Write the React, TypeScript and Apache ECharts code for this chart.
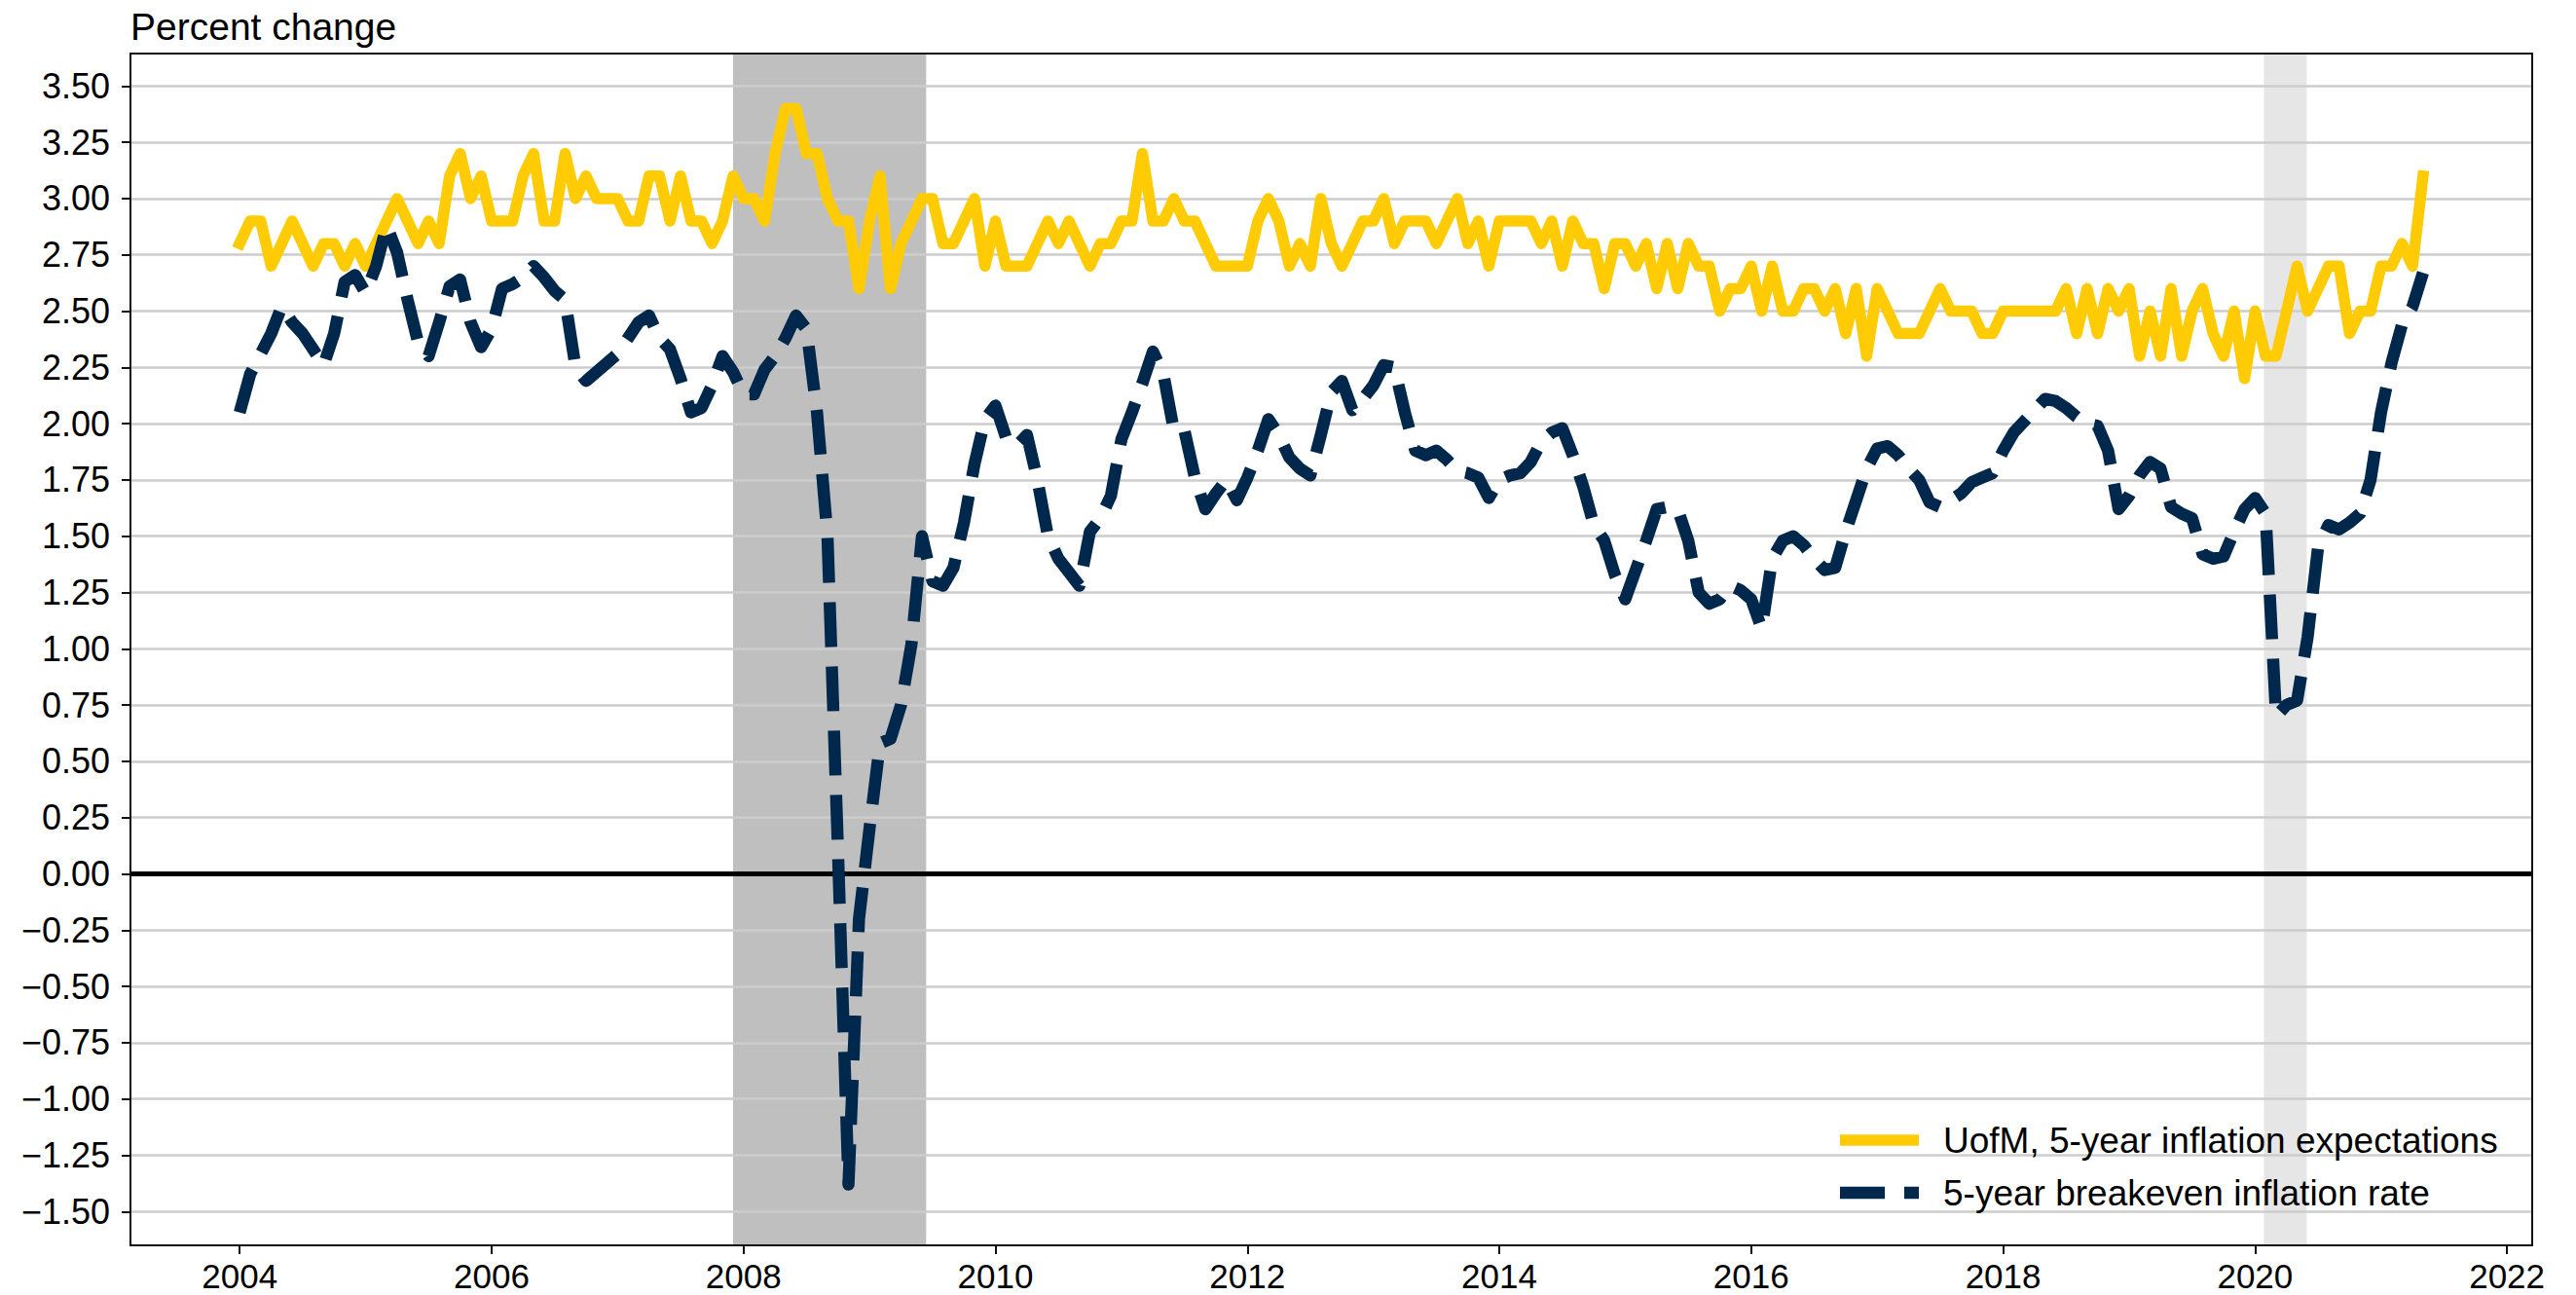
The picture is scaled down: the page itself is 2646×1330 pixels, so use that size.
import React, { useEffect, useRef } from 'react';
import * as echarts from 'echarts';

// Monthly data, January 2004 through May 2021
const startYear = 2004;

const uofm = [
  2.8, 2.9, 2.9, 2.7, 2.8, 2.9, 2.8, 2.7, 2.8, 2.8, 2.7, 2.8,
  2.7, 2.8, 2.9, 3.0, 2.9, 2.8, 2.9, 2.8, 3.1, 3.2, 3.0, 3.1,
  2.9, 2.9, 2.9, 3.1, 3.2, 2.9, 2.9, 3.2, 3.0, 3.1, 3.0, 3.0,
  3.0, 2.9, 2.9, 3.1, 3.1, 2.9, 3.1, 2.9, 2.9, 2.8, 2.9, 3.1,
  3.0, 3.0, 2.9, 3.2, 3.4, 3.4, 3.2, 3.2, 3.0, 2.9, 2.9, 2.6,
  2.9, 3.1, 2.6, 2.8, 2.9, 3.0, 3.0, 2.8, 2.8, 2.9, 3.0, 2.7,
  2.9, 2.7, 2.7, 2.7, 2.8, 2.9, 2.8, 2.9, 2.8, 2.7, 2.8, 2.8,
  2.9, 2.9, 3.2, 2.9, 2.9, 3.0, 2.9, 2.9, 2.8, 2.7, 2.7, 2.7,
  2.7, 2.9, 3.0, 2.9, 2.7, 2.8, 2.7, 3.0, 2.8, 2.7, 2.8, 2.9,
  2.9, 3.0, 2.8, 2.9, 2.9, 2.9, 2.8, 2.9, 3.0, 2.8, 2.9, 2.7,
  2.9, 2.9, 2.9, 2.9, 2.8, 2.9, 2.7, 2.9, 2.8, 2.8, 2.6, 2.8,
  2.8, 2.7, 2.8, 2.6, 2.8, 2.6, 2.8, 2.7, 2.7, 2.5, 2.6, 2.6,
  2.7, 2.5, 2.7, 2.5, 2.5, 2.6, 2.6, 2.5, 2.6, 2.4, 2.6, 2.3,
  2.6, 2.5, 2.4, 2.4, 2.4, 2.5, 2.6, 2.5, 2.5, 2.5, 2.4, 2.4,
  2.5, 2.5, 2.5, 2.5, 2.5, 2.5, 2.6, 2.4, 2.6, 2.4, 2.6, 2.5,
  2.6, 2.3, 2.5, 2.3, 2.6, 2.3, 2.5, 2.6, 2.4, 2.3, 2.5, 2.2,
  2.5, 2.3, 2.3, 2.5, 2.7, 2.5, 2.6, 2.7, 2.7, 2.4, 2.5, 2.5,
  2.7, 2.7, 2.8, 2.7, 3.1,
];

const breakeven = [
  2.05, 2.22, 2.31, 2.40, 2.52, 2.45, 2.40, 2.33, 2.26, 2.40, 2.63, 2.66,
  2.58, 2.70, 2.88, 2.76, 2.55, 2.36, 2.30, 2.45, 2.61, 2.64, 2.45, 2.34,
  2.42, 2.60, 2.62, 2.65, 2.70, 2.65, 2.59, 2.55, 2.25, 2.19, 2.23, 2.27,
  2.31, 2.38, 2.45, 2.48, 2.38, 2.33, 2.20, 2.05, 2.07, 2.17, 2.30, 2.23,
  2.13, 2.13, 2.24, 2.30, 2.38, 2.48, 2.42, 2.05, 1.50, 0.10, -1.38, -0.20,
  0.20, 0.58, 0.60, 0.75, 1.02, 1.50, 1.30, 1.28, 1.36, 1.56, 1.82, 2.02,
  2.08, 1.94, 1.90, 1.95, 1.75, 1.50, 1.40, 1.34, 1.28, 1.52, 1.58, 1.68,
  1.93, 2.05, 2.18, 2.32, 2.22, 1.97, 1.97, 1.76, 1.62, 1.69, 1.75, 1.66,
  1.76, 1.88, 2.02, 1.95, 1.85, 1.80, 1.77, 1.95, 2.14, 2.19, 2.06, 2.11,
  2.17, 2.26, 2.25, 2.05, 1.88, 1.86, 1.88, 1.84, 1.79, 1.78, 1.76, 1.67,
  1.75, 1.77, 1.78, 1.83, 1.92, 1.96, 1.98, 1.86, 1.72, 1.55, 1.48, 1.33,
  1.22, 1.35, 1.48, 1.62, 1.63, 1.62, 1.48, 1.25, 1.20, 1.22, 1.28, 1.26,
  1.22, 1.09, 1.40, 1.48, 1.50, 1.46, 1.40, 1.35, 1.36, 1.52, 1.66, 1.80,
  1.89, 1.90, 1.86, 1.80, 1.75, 1.65, 1.63, 1.66, 1.69, 1.74, 1.76, 1.78,
  1.88, 1.96, 2.01, 2.06, 2.11, 2.10, 2.07, 2.03, 2.00, 1.99, 1.88, 1.62,
  1.68, 1.77, 1.83, 1.80, 1.63, 1.60, 1.58, 1.42, 1.40, 1.41, 1.52, 1.62,
  1.67, 1.60, 0.70, 0.75, 0.77, 1.05, 1.45, 1.55, 1.53, 1.56, 1.60, 1.75,
  2.05, 2.27, 2.44, 2.52, 2.67,
];

const xTicks = [2004, 2006, 2008, 2010, 2012, 2014, 2016, 2018, 2020, 2022];
const yTicks = [
  -1.5, -1.25, -1.0, -0.75, -0.5, -0.25, 0, 0.25, 0.5, 0.75, 1.0, 1.25,
  1.5, 1.75, 2.0, 2.25, 2.5, 2.75, 3.0, 3.25, 3.5,
];
const recessionStarts = [2007.917, 2020.07];
const recessionEnds = [2009.45, 2020.41];
const recessionColors = ['#bfbfbf', '#e6e6e6'];
const seriesNames = ['UofM, 5-year inflation expectations', '5-year breakeven inflation rate'];
const axisTitle = 'Percent change';

export default function App() {
  const ref = useRef<HTMLDivElement>(null);

  useEffect(() => {
    const chart = echarts.init(ref.current as HTMLDivElement, null, { renderer: 'svg' });
    const font = "'Liberation Sans', Arial, Helvetica, sans-serif";
    const toPoints = (arr: number[]) => arr.map((v, i) => [startYear + i / 12, v]);
    const yellow = '#FFCB05';
    const navy = '#00274C';
    const ink = '#000000';

    const gridLines = yTicks.map((v) =>
      v === 0
        ? { yAxis: v, lineStyle: { color: '#000000', width: 5, type: 'solid' } }
        : { yAxis: v, lineStyle: { color: '#cccccc', width: 2.5, type: 'solid' } }
    );

    const bands = recessionStarts.map((s, i) => [
      { xAxis: s, itemStyle: { color: recessionColors[i], opacity: 1 } },
      { xAxis: recessionEnds[i] },
    ]);

    chart.setOption({
      animation: false,
      grid: {
        left: 134,
        right: 45,
        top: 55,
        bottom: 51,
        show: true,
        borderColor: '#111111',
        borderWidth: 2,
        backgroundColor: 'transparent',
        z: 10,
      },
      xAxis: {
        type: 'value',
        min: 2003.133,
        max: 2022.2,
        z: 10,
        axisLine: { show: true, onZero: false, lineStyle: { color: '#111111', width: 2 } },
        axisTick: { show: true, length: 9, customValues: xTicks, lineStyle: { color: '#111111', width: 2 } },
        axisLabel: {
          customValues: xTicks,
          margin: 14,
          fontSize: 35,
          fontFamily: font,
          color: ink,
          formatter: (v: number) => String(Math.round(v)),
        },
        splitLine: { show: false },
      },
      yAxis: {
        type: 'value',
        min: -1.65,
        max: 3.644,
        z: 10,
        axisLine: { show: true, onZero: false, lineStyle: { color: '#111111', width: 2 } },
        axisTick: { show: true, length: 9, customValues: yTicks, lineStyle: { color: '#111111', width: 2 } },
        axisLabel: {
          customValues: yTicks,
          margin: 21,
          fontSize: 36,
          fontFamily: font,
          color: ink,
          formatter: (v: number) => (v < 0 ? '\u2212' : '') + Math.abs(v).toFixed(2),
        },
        splitLine: { show: false },
      },
      series: [
        {
          name: seriesNames[0],
          type: 'line',
          data: toPoints(uofm),
          showSymbol: false,
          symbol: 'none',
          z: 4,
          lineStyle: { color: yellow, width: 11.5, join: 'round', cap: 'square' },
          markArea: {
            silent: true,
            z: 1,
            data: bands,
          },
          markLine: {
            silent: true,
            z: 2,
            symbol: ['none', 'none'],
            label: { show: false },
            data: gridLines,
          },
        },
        {
          name: seriesNames[1],
          type: 'line',
          data: toPoints(breakeven),
          showSymbol: false,
          symbol: 'none',
          z: 5,
          lineStyle: { color: navy, width: 12.5, type: [46, 20], join: 'round', cap: 'butt' },
        },
      ],
      graphic: [
        {
          type: 'text',
          x: 134,
          y: 27.5,
          z: 20,
          style: { text: axisTitle, fontSize: 39, fontFamily: font, fill: ink, align: 'left', verticalAlign: 'middle' },
        },
        {
          type: 'line',
          z: 20,
          shape: { x1: 1890, y1: 1171, x2: 1971, y2: 1171 },
          style: { stroke: yellow, lineWidth: 11.5, lineCap: 'butt' },
        },
        {
          type: 'text',
          x: 1996,
          y: 1171,
          z: 20,
          style: { text: seriesNames[0], fontSize: 37, fontFamily: font, fill: ink, align: 'left', verticalAlign: 'middle' },
        },
        {
          type: 'line',
          z: 20,
          shape: { x1: 1890, y1: 1225, x2: 1971, y2: 1225 },
          style: { stroke: navy, lineWidth: 12.5, lineDash: [46, 20], lineCap: 'butt' },
        },
        {
          type: 'text',
          x: 1996,
          y: 1225,
          z: 20,
          style: { text: seriesNames[1], fontSize: 37, fontFamily: font, fill: ink, align: 'left', verticalAlign: 'middle' },
        },
      ],
    });

    return () => chart.dispose();
  }, []);

  return (
    <div
      ref={ref}
      style={{ position: 'fixed', left: 0, top: 0, width: 2646, height: 1330, background: '#ffffff' }}
    />
  );
}
